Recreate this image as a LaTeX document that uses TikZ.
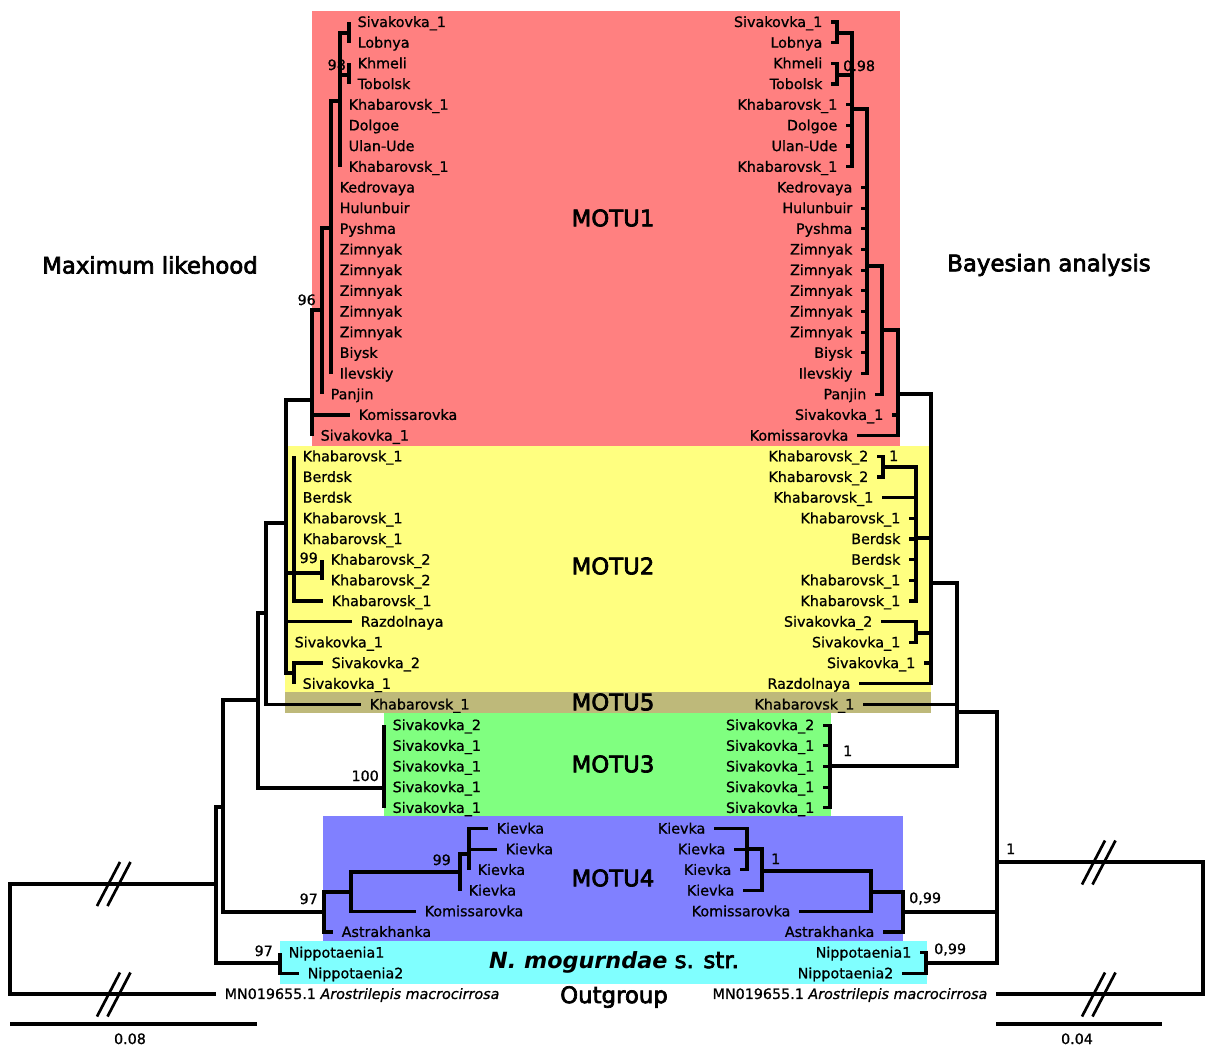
\documentclass[tikz,border=0pt]{standalone}
\usepackage{fontspec}
\setmainfont{DejaVu Sans}[ItalicFont={DejaVu Sans Oblique},BoldFont={DejaVu Sans Bold},BoldItalicFont={DejaVu Sans Bold Oblique}]
\newfontfamily\tipfam{DejaVu Sans}[FakeBold=0.9,ItalicFont={DejaVu Sans Oblique},ItalicFeatures={FakeBold=0.9}]
\newfontfamily\headfont{DejaVu Sans}[FakeBold=3]
\newfontfamily\headbolditalic{DejaVu Sans Bold Oblique}
\definecolor{motuA}{RGB}{255,128,128}
\definecolor{motuB}{RGB}{255,255,128}
\definecolor{motuE}{RGB}{190,185,122}
\definecolor{motuC}{RGB}{128,255,128}
\definecolor{motuD}{RGB}{128,128,255}
\definecolor{nmog}{RGB}{128,255,255}
\newcommand\tipfont{\tipfam\fontsize{14.3}{16}\selectfont}
\newcommand\bigfont{\headfont\fontsize{22.8}{27}\selectfont}
\begin{document}
\begin{tikzpicture}[x=1pt,y=-1pt,
  declare function={row(\i)=22+20.68*\i;},
  branch/.style={line width=3.2pt,line join=miter},
  brk/.style={line width=2.7pt},
  tipL/.style={anchor=west,inner xsep=8.5pt,inner ysep=0pt,text height=10pt,text depth=0pt,font=\tipfont},
  tipR/.style={anchor=east,inner xsep=8.5pt,inner ysep=0pt,text height=10pt,text depth=0pt,font=\tipfont},
  supp/.style={inner sep=0pt,text height=10pt,text depth=0pt,font=\tipfont},
  cladelabel/.style={inner sep=0pt,font=\bigfont}]
\useasboundingbox (0,0) rectangle (1206,1046);

% clade backgrounds
\fill[motuA] (312,11) rectangle (900,446);
\fill[motuB] (285,446) rectangle (931,692);
\fill[motuE] (285,692) rectangle (931,713);
\fill[motuC] (384,713) rectangle (831,816);
\fill[motuD] (323,816) rectangle (903,941);
\fill[nmog] (280,941) rectangle (927,984);

% clade names and titles
\node[cladelabel] (tMOTU1) at (613,218) {MOTU1};
\node[cladelabel] (tMOTU2) at (613,566) {MOTU2};
\node[cladelabel] (tMOTU5) at (613,702) {MOTU5};
\node[cladelabel] (tMOTU3) at (613,764) {MOTU3};
\node[cladelabel] (tMOTU4) at (613,878) {MOTU4};
\node[cladelabel] (tNmog) at (614,962) {{\headbolditalic\fontsize{22.3}{27}\selectfont N. mogurndae} s. str.};
\node[cladelabel] (tOut) at (614,997) {Outgroup};
\node[cladelabel] (tML) at (150,265) {Maximum likehood};
\node[cladelabel] (tBA) at (1049,265) {Bayesian analysis};

% ---------------- maximum likelihood tree (left) ----------------
\foreach \i/\x/\t in {
  0/349/Sivakovka\_1, 1/349/Lobnya, 2/349/Khmeli, 3/349/Tobolsk,
  4/340/Khabarovsk\_1, 5/340/Dolgoe, 6/340/Ulan-Ude, 7/340/Khabarovsk\_1,
  8/331/Kedrovaya, 9/331/Hulunbuir, 10/331/Pyshma, 11/331/Zimnyak,
  12/331/Zimnyak, 13/331/Zimnyak, 14/331/Zimnyak, 15/331/Zimnyak,
  16/331/Biysk, 17/331/Ilevskiy, 18/322/Panjin, 19/350/Komissarovka,
  20/312/Sivakovka\_1, 21/294/Khabarovsk\_1, 22/294/Berdsk, 23/294/Berdsk,
  24/294/Khabarovsk\_1, 25/294/Khabarovsk\_1, 26/322/Khabarovsk\_2,
  27/322/Khabarovsk\_2, 28/323/Khabarovsk\_1, 29/352/Razdolnaya,
  30/286/Sivakovka\_1, 31/323/Sivakovka\_2, 32/294/Sivakovka\_1,
  33/361/Khabarovsk\_1, 34/384/Sivakovka\_2, 35/384/Sivakovka\_1,
  36/384/Sivakovka\_1, 37/384/Sivakovka\_1, 38/384/Sivakovka\_1,
  39/488/Kievka, 40/497/Kievka, 41/469/Kievka, 42/460/Kievka,
  43/416/Komissarovka, 44/333/Astrakhanka, 45/280/Nippotaenia1,
  46/299/Nippotaenia2}
  \node[tipL] (L\i) at (\x,{row(\i)}) {\t};
\node[tipL] (L47) at (216,{row(47)}) {MN019655.1 \textit{Arostrilepis macrocirrosa}};

\coordinate (a1) at (349,33);
\coordinate (a2) at (349,75);
\coordinate (a3) at (340,101);
\coordinate (a4) at (331,228);
\coordinate (a5) at (322,310);
\coordinate (a6) at (312,400);
\coordinate (b1) at (322,573);
\coordinate (b2) at (294,573);
\coordinate (b3) at (294,673);
\coordinate (c1) at (286,523);
\coordinate (c2) at (266,613);
\coordinate (d1) at (384,788);
\coordinate (c3) at (258,700);
\coordinate (e1) at (469,854);
\coordinate (e2) at (460,872);
\coordinate (e3) at (351,892);
\coordinate (e4) at (324,912);
\coordinate (c4) at (223,807);
\coordinate (f1) at (280,963);
\coordinate (c5) at (216,884);
\coordinate (mlroot) at (10,939);

\foreach \p/\cs in {
  a1/{L0.west,L1.west},
  a2/{L2.west,L3.west},
  a3/{a1,a2,L4.west,L5.west,L6.west,L7.west},
  a4/{a3,L8.west,L9.west,L10.west,L11.west,L12.west,L13.west,L14.west,L15.west,L16.west,L17.west},
  a5/{a4,L18.west},
  a6/{a5,L19.west,L20.west},
  b1/{L26.west,L27.west},
  b2/{L21.west,L22.west,L23.west,L24.west,L25.west,b1,L28.west},
  b3/{L31.west,L32.west},
  c1/{a6,b2,L29.west,L30.west,b3},
  c2/{c1,L33.west},
  d1/{L34.west,L35.west,L36.west,L37.west,L38.west},
  c3/{c2,d1},
  e1/{L39.west,L40.west,L41.west},
  e2/{e1,L42.west},
  e3/{e2,L43.west},
  e4/{e3,L44.west},
  c4/{c3,e4},
  f1/{L45.west,L46.west},
  c5/{c4,f1},
  mlroot/{c5,L47.west}}
  { \foreach \c in \cs \draw[branch] (\p) |- (\c); }

% support values
\node[supp,anchor=east] (s98) at (346,65) {98};
\node[supp,anchor=east] (s96) at (316,300) {96};
\node[supp,anchor=east] (s99a) at (318,558) {99};
\node[supp,anchor=east] (s100) at (379,776) {100};
\node[supp,anchor=east] (s99b) at (451,860) {99};
\node[supp,anchor=east] (s97a) at (318,899) {97};
\node[supp,anchor=east] (s97b) at (273,951) {97};

% ---------------- Bayesian tree (right) ----------------
\foreach \i/\x/\t in {
  0/831/Sivakovka\_1, 1/831/Lobnya, 2/831/Khmeli, 3/831/Tobolsk,
  4/846/Khabarovsk\_1, 5/846/Dolgoe, 6/846/Ulan-Ude, 7/846/Khabarovsk\_1,
  8/861/Kedrovaya, 9/861/Hulunbuir, 10/861/Pyshma, 11/861/Zimnyak,
  12/861/Zimnyak, 13/861/Zimnyak, 14/861/Zimnyak, 15/861/Zimnyak,
  16/861/Biysk, 17/861/Ilevskiy, 18/875/Panjin, 19/892/Sivakovka\_1,
  20/857/Komissarovka, 21/877/Khabarovsk\_2, 22/877/Khabarovsk\_2,
  23/882/Khabarovsk\_1, 24/909/Khabarovsk\_1, 25/909/Berdsk, 26/909/Berdsk,
  27/909/Khabarovsk\_1, 28/909/Khabarovsk\_1, 29/881/Sivakovka\_2,
  30/909/Sivakovka\_1, 31/924/Sivakovka\_1, 32/859/Razdolnaya,
  33/863/Khabarovsk\_1, 34/823/Sivakovka\_2, 35/823/Sivakovka\_1,
  36/823/Sivakovka\_1, 37/823/Sivakovka\_1, 38/823/Sivakovka\_1,
  39/714/Kievka, 40/734/Kievka, 41/740/Kievka, 42/743/Kievka,
  43/799/Komissarovka, 44/883/Astrakhanka, 45/920/Nippotaenia1,
  46/902/Nippotaenia2}
  \node[tipR] (R\i) at (\x,{row(\i)}) {\t};
\node[tipR] (R47) at (996,{row(47)}) {MN019655.1 \textit{Arostrilepis macrocirrosa}};

\coordinate (A1) at (837,33);
\coordinate (A2) at (837,75);
\coordinate (A3) at (852,109);
\coordinate (A4) at (867,266);
\coordinate (A5) at (882,330);
\coordinate (A6) at (898,394);
\coordinate (B1) at (883,467);
\coordinate (B2) at (916,538);
\coordinate (B3) at (916,633);
\coordinate (C1) at (931,583);
\coordinate (D1) at (830,766);
\coordinate (C2) at (957,712);
\coordinate (E1) at (747,849);
\coordinate (E2) at (762,871);
\coordinate (E3) at (871,892);
\coordinate (E4) at (903,912);
\coordinate (F1) at (926,963);
\coordinate (C3) at (997,862);
\coordinate (baroot) at (1203,928);

\foreach \p/\cs in {
  A1/{R0.east,R1.east},
  A2/{R2.east,R3.east},
  A3/{A1,A2,R4.east,R5.east,R6.east,R7.east},
  A4/{A3,R8.east,R9.east,R10.east,R11.east,R12.east,R13.east,R14.east,R15.east,R16.east,R17.east},
  A5/{A4,R18.east},
  A6/{A5,R19.east,R20.east},
  B1/{R21.east,R22.east},
  B2/{B1,R23.east,R24.east,R25.east,R26.east,R27.east,R28.east},
  B3/{R29.east,R30.east},
  C1/{A6,B2,B3,R31.east,R32.east},
  D1/{R34.east,R35.east,R36.east,R37.east,R38.east},
  C2/{C1,R33.east,D1},
  E1/{R39.east,R40.east,R41.east},
  E2/{E1,R42.east},
  E3/{E2,R43.east},
  E4/{E3,R44.east},
  F1/{R45.east,R46.east},
  C3/{C2,E4,F1},
  baroot/{C3,R47.east}}
  { \foreach \c in \cs \draw[branch] (\p) |- (\c); }

% posterior probabilities
\node[supp,anchor=west] (p098) at (843,66) {0.98};
\node[supp,anchor=west] (p1a) at (889,456) {1};
\node[supp,anchor=west] (p1b) at (843,751) {1};
\node[supp,anchor=west] (p1c) at (771,859) {1};
\node[supp,anchor=west] (p099a) at (909,898) {0,99};
\node[supp,anchor=west] (p099b) at (934,949) {0,99};
\node[supp,anchor=west] (p1d) at (1006,849) {1};

% broken long branches
\foreach \xc/\yc in {108.5/884, 108.5/994.5, 1093.5/862.5, 1093.5/994.5} {
  \draw[brk] ({\xc-11.5},{\yc+22}) -- ++(23,-44);
  \draw[brk] ({\xc-1},{\yc+22}) -- ++(23,-44);
}

% scale bars
\coordinate (sbL1) at (10,1024);
\coordinate (sbL2) at (257,1024);
\coordinate (sbR1) at (996,1024);
\coordinate (sbR2) at (1162,1024);
\draw[branch] (sbL1) -- (sbL2);
\draw[branch] (sbR1) -- (sbR2);
\node[supp] (sbLlab) at (130,1039) {0.08};
\node[supp] (sbRlab) at (1077,1039) {0.04};
\end{tikzpicture}
\end{document}
